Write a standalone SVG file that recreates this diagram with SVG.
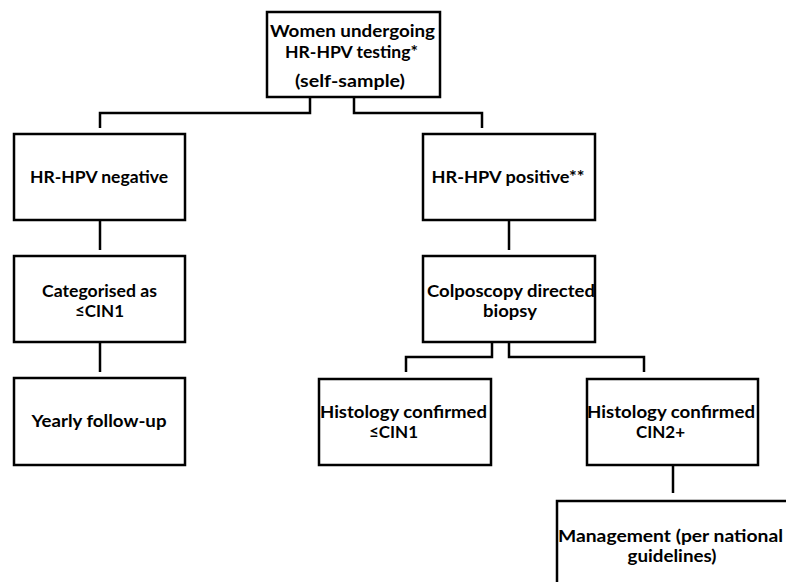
<svg xmlns="http://www.w3.org/2000/svg" width="786" height="582" viewBox="0 0 786 582">
<style>
.box{fill:#fff;stroke:#000;stroke-width:2.5}
.ln{fill:none;stroke:#000;stroke-width:2.5}
text{font-family:"Lato","Open Sans","Liberation Sans",sans-serif;font-weight:bold;font-size:17px;fill:#000;text-anchor:middle}
</style>
<rect width="786" height="582" fill="#fff"/>
<g id="connectors">
<polyline class="ln" points="310,97 310,113 100,113 100,128"/>
<polyline class="ln" points="354,97 354,113 482,113 482,128"/>
<line class="ln" x1="100" y1="220" x2="100" y2="250"/>
<line class="ln" x1="100" y1="342" x2="100" y2="372"/>
<line class="ln" x1="509" y1="220" x2="509" y2="250"/>
<polyline class="ln" points="492,342 492,357 406,357 406,372"/>
<polyline class="ln" points="509,342 509,357 644,357 644,372"/>
<line class="ln" x1="673" y1="465" x2="673" y2="493"/>
</g>
<g id="n-women">
<rect class="box" x="267" y="12" width="173" height="85"/>
<text x="352.5" y="37" textLength="165" lengthAdjust="spacingAndGlyphs">Women undergoing</text>
<text x="351.5" y="58" textLength="133" lengthAdjust="spacingAndGlyphs">HR-HPV testing*</text>
<text x="350" y="87" textLength="110" lengthAdjust="spacingAndGlyphs">(self-sample)</text>
</g>
<g id="n-neg">
<rect class="box" x="14" y="134" width="171" height="86"/>
<text x="99" y="183" textLength="138" lengthAdjust="spacingAndGlyphs">HR-HPV negative</text>
</g>
<g id="n-cat">
<rect class="box" x="14" y="256" width="171" height="86"/>
<text x="99.5" y="297" textLength="115" lengthAdjust="spacingAndGlyphs">Categorised as</text>
<text x="99.5" y="317">≤CIN1</text>
</g>
<g id="n-yearly">
<rect class="box" x="14" y="378" width="171" height="87"/>
<text x="99" y="427" textLength="135" lengthAdjust="spacingAndGlyphs">Yearly follow-up</text>
</g>
<g id="n-pos">
<rect class="box" x="423" y="134" width="172" height="86"/>
<text x="508" y="183" textLength="153" lengthAdjust="spacingAndGlyphs">HR-HPV positive**</text>
</g>
<g id="n-colpo">
<rect class="box" x="423" y="256" width="172" height="86"/>
<text x="511" y="297" textLength="168" lengthAdjust="spacingAndGlyphs">Colposcopy directed</text>
<text x="510" y="317" textLength="54" lengthAdjust="spacingAndGlyphs">biopsy</text>
</g>
<g id="n-hist1">
<rect class="box" x="319" y="379" width="172" height="86"/>
<text x="403.5" y="418" textLength="167" lengthAdjust="spacingAndGlyphs">Histology confirmed</text>
<text x="393.5" y="438">≤CIN1</text>
</g>
<g id="n-hist2">
<rect class="box" x="587" y="379" width="171" height="86"/>
<text x="671" y="418" textLength="168" lengthAdjust="spacingAndGlyphs">Histology confirmed</text>
<text x="660.5" y="438">CIN2+</text>
</g>
<g id="n-mgmt">
<rect class="box" x="557" y="501" width="260" height="120"/>
<text x="670.5" y="542" textLength="225" lengthAdjust="spacingAndGlyphs">Management (per national</text>
<text x="672" y="562" textLength="89" lengthAdjust="spacingAndGlyphs">guidelines)</text>
</g>
</svg>
